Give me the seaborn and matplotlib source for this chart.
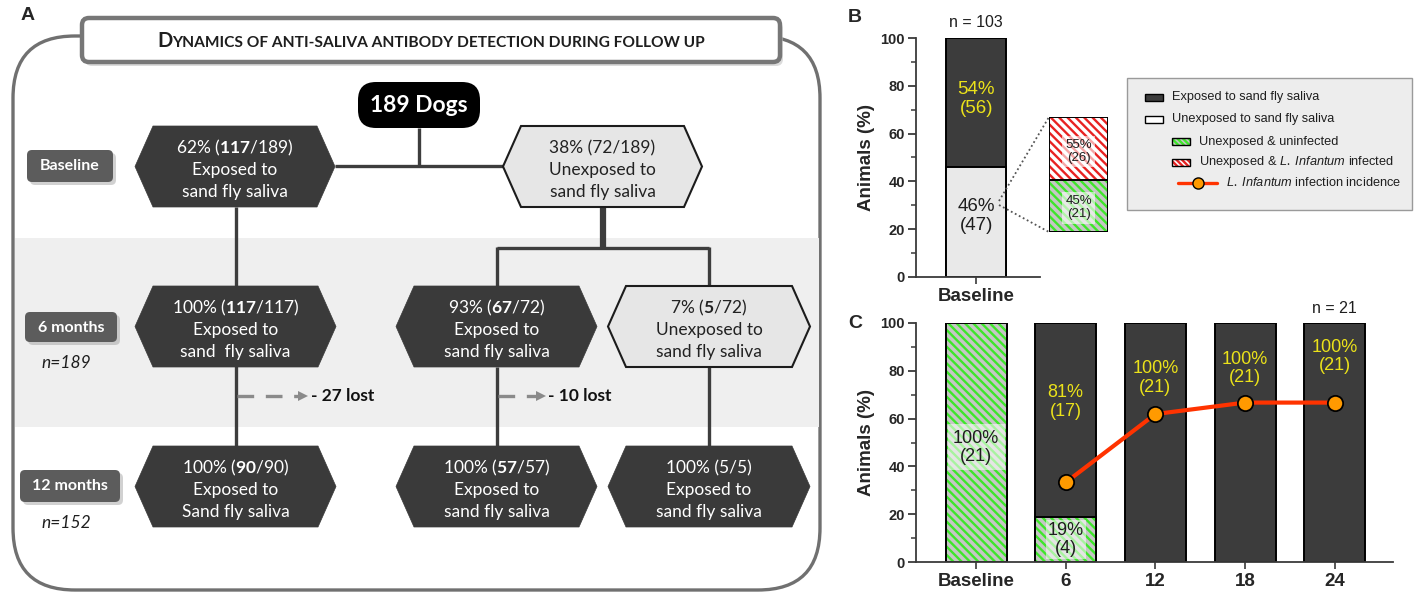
import matplotlib
matplotlib.use("Agg")
import matplotlib.pyplot as plt
import numpy as np
import pandas as pd
import seaborn as sns
from matplotlib.patches import Polygon, FancyBboxPatch, Rectangle
from matplotlib.offsetbox import TextArea, HPacker, AnnotationBbox
from matplotlib.ticker import MultipleLocator

# ---------------- data ----------------
# Panel A: flow of anti-saliva antibody detection (189 dogs)
a_total = 189
a_rows = ["Baseline", "6 months", "12 months"]
a_row_n = ["", "n=189", "n=152"]
a_node_pct = ["62%", "38%", "100%", "93%", "7%", "100%", "100%", "100%"]
a_node_count = [117, 72, 117, 67, 5, 90, 57, 5]
a_node_denom = [189, 189, 117, 72, 72, 90, 57, 5]
a_node_bold = [True, False, True, True, True, True, True, False]
a_node_exposed = [True, False, True, True, False, True, True, True]
a_node_tail = ["sand fly saliva", "sand fly saliva", "sand  fly saliva",
               "sand fly saliva", "sand fly saliva", "Sand fly saliva",
               "sand fly saliva", "sand fly saliva"]
a_lost = [27, 10]

# Panel B: baseline screening
b_groups = ["Baseline"]
b_n_total = 103
b_exposed_pct = [54]
b_exposed_n = [56]
b_unexposed_pct = [46]
b_unexposed_n = [47]
b_split_labels = ["uninfected", "infected"]
b_split_pct = [45, 55]
b_split_n = [21, 26]

# Panel C: follow-up of the unexposed & uninfected dogs
c_times = ["Baseline", "6", "12", "18", "24"]
c_n_total = 21
c_unexposed_pct = [100, 19, 0, 0, 0]
c_unexposed_n = [21, 4, 0, 0, 0]
c_exposed_pct = [0, 81, 100, 100, 100]
c_exposed_n = [0, 17, 21, 21, 21]
c_incid_times = ["6", "12", "18", "24"]
c_incid_pct = [33.3, 61.9, 66.7, 66.7]

# ---------------- style ----------------
W, H = 1418, 594
sns.set_theme(style="ticks")
plt.rcParams["font.family"] = ["Liberation Sans", "DejaVu Sans"]
plt.rcParams["mathtext.fontset"] = "custom"
plt.rcParams["mathtext.bf"] = "Lato:bold"
plt.rcParams["mathtext.rm"] = "Lato"
plt.rcParams["mathtext.it"] = "Liberation Sans:italic"
plt.rcParams["hatch.linewidth"] = 1.7

FLOW = "Lato"
HEX_DARK = "#3a3a3a"
HEX_LIGHT = "#e6e6e6"
LINK = "#3d3d3d"
BAR_DARK = "#3c3c3c"
BAR_LIGHT = "#e9e9e9"
YELLOW = "#ebe21a"
GREEN = "#3ee62a"
GREEN_BG = "#c6c6c6"
RED = "#e82222"
LINE_RED = "#ff3300"
DOT_ORANGE = "#ff9a00"
BAR_HATCH = "\\\\\\\\"
LEG_HATCH = "\\\\\\\\\\\\"

fig = plt.figure(figsize=(W / 100, H / 100), dpi=100)
fig.patch.set_facecolor("white")


def fig_rect(x0, y0, x1, y1):
    return [x0 / W, 1 - y1 / H, (x1 - x0) / W, (y1 - y0) / H]


canvas = fig.add_axes([0, 0, 1, 1], zorder=0)
canvas.set_xlim(0, W)
canvas.set_ylim(H, 0)
canvas.axis("off")

# ---------------- panel A: flow chart ----------------
canvas.text(28, 16, "A", ha="center", va="center", fontsize=14, fontweight="bold")

canvas.add_patch(FancyBboxPatch((13, 36), 807, 554, boxstyle="round,pad=0,rounding_size=62",
                                fc="white", ec="#707070", lw=2.4, zorder=1))
canvas.add_patch(Rectangle((14.5, 238), 804, 189, fc="#efefef", ec="none", zorder=1.5))

# title box
canvas.add_patch(FancyBboxPatch((85, 22), 698, 44, boxstyle="round,pad=0,rounding_size=7",
                                fc="#c4c4c4", ec="none", alpha=0.6, zorder=2))
canvas.add_patch(FancyBboxPatch((82, 18), 698, 44, boxstyle="round,pad=0,rounding_size=7",
                                fc="white", ec="#777777", lw=3.2, zorder=3))
title_big = TextArea("D", textprops=dict(family=FLOW, weight="bold", size=14.5, color="#1e1e1e"))
title_small = TextArea("YNAMICS OF ANTI-SALIVA ANTIBODY DETECTION DURING FOLLOW UP",
                       textprops=dict(family=FLOW, weight="bold", size=11.2, color="#1e1e1e"))
title_pack = HPacker(children=[title_big, title_small], align="baseline", pad=0, sep=0)
canvas.add_artist(AnnotationBbox(title_pack, (431, 41), xycoords="data", frameon=False,
                                 box_alignment=(0.5, 0.5), pad=0, zorder=4))

# root node
canvas.add_patch(FancyBboxPatch((358, 82), 122, 46, boxstyle="round,pad=0,rounding_size=18",
                                fc="black", ec="none", zorder=4))
canvas.text(419, 106, f"{a_total} Dogs", ha="center", va="center", family=FLOW,
            fontsize=16.5, fontweight="bold", color="white", zorder=5)

# connectors
def link(xs, ys, lw=2.4):
    canvas.plot(xs, ys, color=LINK, lw=lw, solid_capstyle="butt", zorder=3)

link([419, 419], [128, 166])
link([335, 503], [166, 166])
link([235.5, 235.5], [207, 446])
link([602.5, 602.5], [207, 248], lw=4.5)
link([496.5, 709], [248, 248])
link([496.5, 496.5], [247, 286])
link([709, 709], [247, 286])
link([496.5, 496.5], [367, 446])
link([709, 709], [367, 446])

# hexagon nodes
node_boxes = [(135, 335, 126, 207), (503, 702, 126, 207),
              (135, 336, 286, 367), (396, 597, 286, 367), (608, 810, 286, 367),
              (135, 336, 446, 527), (396, 597, 446, 527), (608, 810, 446, 527)]
for i, (x0, x1, y0, y1) in enumerate(node_boxes):
    cy = (y0 + y1) / 2
    cx = (x0 + x1) / 2
    ins = 18
    pts = [(x0 + ins, y0), (x1 - ins, y0), (x1, cy), (x1 - ins, y1), (x0 + ins, y1), (x0, cy)]
    dark = a_node_exposed[i]
    canvas.add_patch(Polygon(pts, closed=True, fc=HEX_DARK if dark else HEX_LIGHT,
                             ec=HEX_DARK if dark else "#1c1c1c", lw=0.5 if dark else 1.5, zorder=4))
    count = r"$\mathbf{%d}$" % a_node_count[i] if a_node_bold[i] else str(a_node_count[i])
    first = f"{a_node_pct[i]} (" + count + f"/{a_node_denom[i]})"
    second = "Exposed to" if a_node_exposed[i] else "Unexposed to"
    col = "white" if dark else "#222222"
    for txt, dy in zip((first, second, a_node_tail[i]), (-13, 9, 31)):
        canvas.text(cx, cy + dy, txt, ha="center", va="baseline", family=FLOW,
                    fontsize=12.5, color=col, zorder=5)

# row labels
row_boxes = [(27, 113, 150, 182), (25, 117, 312, 342), (20, 120, 470, 502)]
for (x0, x1, y0, y1), lab, nlab in zip(row_boxes, a_rows, a_row_n):
    canvas.add_patch(FancyBboxPatch((x0 + 3, y0 + 3), x1 - x0, y1 - y0,
                                    boxstyle="round,pad=0,rounding_size=5",
                                    fc="#9a9a9a", ec="none", alpha=0.45, zorder=2))
    canvas.add_patch(FancyBboxPatch((x0, y0), x1 - x0, y1 - y0,
                                    boxstyle="round,pad=0,rounding_size=5",
                                    fc="#5c5c5c", ec="none", zorder=3))
    canvas.text((x0 + x1) / 2, (y0 + y1) / 2 + 0.5, lab, ha="center", va="center", family=FLOW,
                fontsize=11.5, fontweight="bold", color="white", zorder=4)
    if nlab:
        canvas.text(66, y1 + 21, nlab, ha="center", va="center", family=FLOW,
                    fontsize=12.5, style="italic", color="#1e1e1e", zorder=4)

# lost to follow-up
for (xa, xb, xt), lost in zip([(237, 300, 311), (498, 538, 548)], a_lost):
    canvas.plot([xa, xb], [396, 396], color="#8a8a8a", lw=2.4, dashes=(5, 3.5), zorder=3)
    canvas.plot([xb + 3], [396], marker=">", ms=7, color="#8a8a8a", mew=0, zorder=3)
    canvas.text(xt, 396, f"- {lost} lost", ha="left", va="center", family=FLOW,
                fontsize=12.5, fontweight="bold", color="#111111", zorder=4)

# ---------------- helpers for bar panels ----------------
def style_bar_axis(ax):
    sns.despine(ax=ax)
    for s in ("left", "bottom"):
        ax.spines[s].set_linewidth(1.3)
        ax.spines[s].set_color("#3a3a3a")
    ax.set_facecolor("none")
    ax.set_ylim(0, 100)
    ax.set_yticks(range(0, 101, 20))
    ax.yaxis.set_minor_locator(MultipleLocator(10))
    ax.tick_params(axis="y", which="major", length=6, width=1.3, labelsize=10.5, color="#3a3a3a", pad=2)
    ax.tick_params(axis="y", which="minor", length=3.5, width=1.1, color="#3a3a3a")
    ax.tick_params(axis="x", length=5, width=1.2, labelsize=13.5, color="#3a3a3a", pad=3)
    for t in ax.get_yticklabels() + ax.get_xticklabels():
        t.set_fontweight("bold")
    ax.set_ylabel("Animals (%)", fontsize=13.5, fontweight="bold", labelpad=4)
    ax.set_xlabel("")


def hatch_bar(ax, patch, color, bg, hatch=BAR_HATCH):
    patch.set_facecolor(bg)
    patch.set_edgecolor(color)
    patch.set_hatch(hatch)
    patch.set_linewidth(0)
    ax.add_patch(Rectangle(patch.get_xy(), patch.get_width(), patch.get_height(),
                           fill=False, ec="black", lw=1.4, zorder=patch.get_zorder() + 0.1))


# ---------------- panel B ----------------
axB = fig.add_axes(fig_rect(916, 38, 1040, 277))
dfB = pd.DataFrame({"group": b_groups,
                    "total": [e + u for e, u in zip(b_exposed_pct, b_unexposed_pct)],
                    "unexposed": b_unexposed_pct})
sns.barplot(data=dfB, x="group", y="total", color=BAR_DARK, saturation=1, width=0.5,
            edgecolor="black", linewidth=1.4, errorbar=None, ax=axB)
sns.barplot(data=dfB, x="group", y="unexposed", color=BAR_LIGHT, saturation=1, width=0.5,
            edgecolor="black", linewidth=1.4, errorbar=None, ax=axB)
axB.set_xlim(-0.5, 0.53)
style_bar_axis(axB)
axB.text(0, 74.5, f"{b_exposed_pct[0]}%\n({b_exposed_n[0]})", ha="center", va="center",
         color=YELLOW, fontsize=13.5, linespacing=1.1)
axB.text(0, 25.5, f"{b_unexposed_pct[0]}%\n({b_unexposed_n[0]})", ha="center", va="center",
         color="#1e1e1e", fontsize=13.5, linespacing=1.1)
axB.text(0, 106.5, f"n = {b_n_total}", ha="center", va="center", fontsize=11.5,
         color="#1e1e1e", clip_on=False)

# zoom of the unexposed group
axI = fig.add_axes(fig_rect(1049, 117, 1108, 232))
dfI = pd.DataFrame({"g": ["unexposed"], "total": [sum(b_split_pct)], "uninf": [b_split_pct[0]]})
sns.barplot(data=dfI, x="g", y="total", color="white", saturation=1, width=1.0,
            errorbar=None, ax=axI)
sns.barplot(data=dfI, x="g", y="uninf", color="white", saturation=1, width=1.0,
            errorbar=None, ax=axI)
axI.set_xlim(-0.5, 0.5)
axI.set_ylim(0, 100)
axI.axis("off")
pI = list(axI.patches)
hatch_bar(axI, pI[0], RED, "white")
hatch_bar(axI, pI[1], GREEN, GREEN_BG)
box = dict(boxstyle="square,pad=0.25", fc="white", ec="none", alpha=0.6)
axI.text(0, 70, f"{b_split_pct[1]}%\n({b_split_n[1]})", ha="center", va="center",
         fontsize=9.5, color="#1e1e1e", bbox=box, linespacing=1.1, zorder=5)
axI.text(0, 21, f"{b_split_pct[0]}%\n({b_split_n[0]})", ha="center", va="center",
         fontsize=9.5, color="#1e1e1e", bbox=box, linespacing=1.1, zorder=5)

# ---------------- panel C ----------------
axC = fig.add_axes(fig_rect(916, 323, 1393, 562))
dfC = pd.DataFrame({"time": c_times,
                    "total": [e + u for e, u in zip(c_exposed_pct, c_unexposed_pct)],
                    "unexposed": c_unexposed_pct})
sns.barplot(data=dfC, x="time", y="total", color=BAR_DARK, saturation=1, width=0.68,
            edgecolor="black", linewidth=1.4, errorbar=None, ax=axC)
n_c = len(c_times)
sns.barplot(data=dfC, x="time", y="unexposed", color="white", saturation=1, width=0.68,
            errorbar=None, ax=axC)
for p in list(axC.patches)[n_c:2 * n_c]:
    if p.get_height() > 0:
        hatch_bar(axC, p, GREEN, GREEN_BG)
    else:
        p.set_visible(False)
axC.set_xlim(-0.67, 4.65)
style_bar_axis(axC)

xpos = [c_times.index(t) for t in c_incid_times]
sns.lineplot(x=xpos, y=c_incid_pct, ax=axC, color=LINE_RED, lw=3, marker="o",
             markersize=11, markerfacecolor=DOT_ORANGE, markeredgecolor="black",
             markeredgewidth=1.3, zorder=6)

box_c = dict(boxstyle="square,pad=0.3", fc="white", ec="none", alpha=0.55)
box_c_small = dict(boxstyle="square,pad=0.12", fc="white", ec="none", alpha=0.55)
axC.text(0, 48, f"{c_unexposed_pct[0]}%\n({c_unexposed_n[0]})", ha="center", va="center",
         fontsize=13, color="#1e1e1e", bbox=box_c, linespacing=1.1, zorder=7)
axC.text(1, 9.5, f"{c_unexposed_pct[1]}%\n({c_unexposed_n[1]})", ha="center", va="center",
         fontsize=13, color="#1e1e1e", bbox=box_c_small, linespacing=1.05, zorder=7)
for i, ytxt in zip(range(1, n_c), (67, 77, 81, 86)):
    axC.text(i, ytxt, f"{c_exposed_pct[i]}%\n({c_exposed_n[i]})", ha="center", va="center",
             fontsize=13, color=YELLOW, linespacing=1.1, zorder=7)
axC.text(n_c - 1, 106, f"n = {c_n_total}", ha="center", va="center", fontsize=11.5,
         color="#1e1e1e", clip_on=False)

# ---------------- overlay: panel letters, zoom guides, legend ----------------
over = fig.add_axes([0, 0, 1, 1], zorder=10)
over.set_xlim(0, W)
over.set_ylim(H, 0)
over.axis("off")
over.patch.set_visible(False)
over.text(855, 17, "B", ha="center", va="center", fontsize=14, fontweight="bold")
over.text(855, 324, "C", ha="center", va="center", fontsize=14, fontweight="bold")

over.plot([999, 1049], [201, 117], color="#555555", lw=1.3, ls=(0, (1, 1.5)))
over.plot([999, 1049], [205, 232], color="#555555", lw=1.3, ls=(0, (1, 1.5)))

over.add_patch(Rectangle((1127, 78), 285, 132, fc="#ededed", ec="#9a9a9a", lw=1))
LEG = 9.2
over.add_patch(Rectangle((1145, 93.5), 18, 7, fc=BAR_DARK, ec="black", lw=1))
over.text(1172, 97, "Exposed to sand fly saliva", va="center", fontsize=LEG, color="#1e1e1e")
over.add_patch(Rectangle((1145, 115.5), 18, 7, fc="white", ec="black", lw=1))
over.text(1172, 119, "Unexposed to sand fly saliva", va="center", fontsize=LEG, color="#1e1e1e")
leg_hatch = [(GREEN, GREEN_BG, 141.5, "Unexposed & uninfected"),
             (RED, "white", 162.5, r"Unexposed & $\mathit{L.\ Infantum}$ infected")]
for col, bg, yy, lab in leg_hatch:
    p = Rectangle((1172, yy - 3.5), 18, 7, fc=bg, ec=col, lw=0, hatch=LEG_HATCH)
    over.add_patch(p)
    over.add_patch(Rectangle((1172, yy - 3.5), 18, 7, fill=False, ec="black", lw=1))
    over.text(1199, yy, lab, va="center", fontsize=LEG, color="#1e1e1e")
over.plot([1178, 1217], [183, 183], color=LINE_RED, lw=2.4)
over.plot([1198], [183], marker="o", ms=8, mfc=DOT_ORANGE, mec="black", mew=1)
over.text(1226, 183, r"$\mathit{L.\ Infantum}$ infection incidence", va="center",
          fontsize=LEG, color="#1e1e1e")

fig.savefig("out.png", dpi=100, facecolor="white")
